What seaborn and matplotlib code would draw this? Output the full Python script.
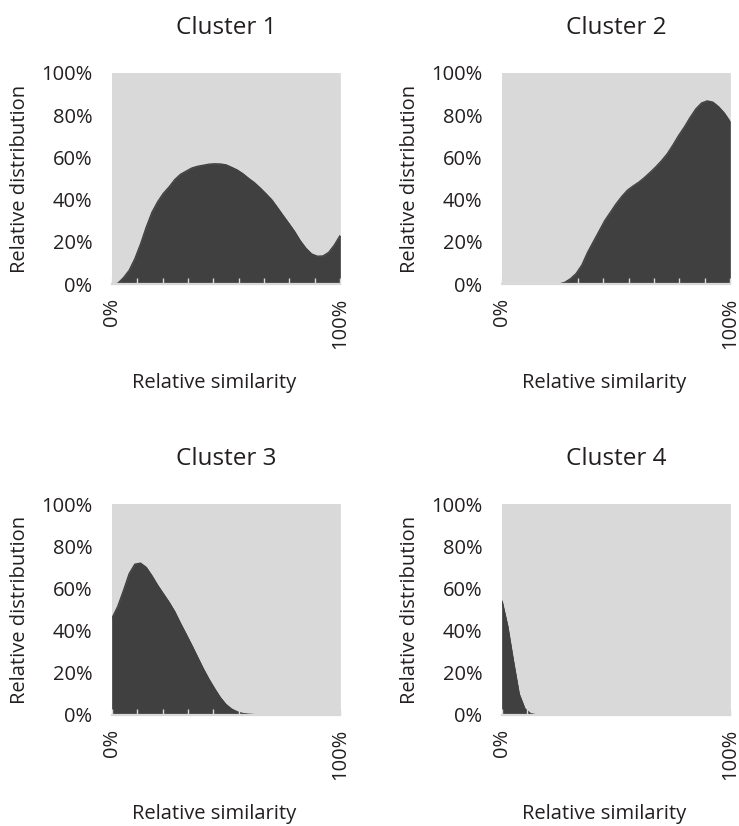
import matplotlib
matplotlib.use("Agg")
import matplotlib.pyplot as plt
from matplotlib.ticker import FixedLocator, FuncFormatter
import numpy as np
import pandas as pd
import seaborn as sns

# Relative similarity grid (percent)
similarity = [0, 2.5, 5, 7.5, 10, 12.5, 15, 17.5, 20, 22.5, 25, 27.5, 30, 32.5,
              35, 37.5, 40, 42.5, 45, 47.5, 50, 52.5, 55, 57.5, 60, 62.5, 65,
              67.5, 70, 72.5, 75, 77.5, 80, 82.5, 85, 87.5, 90, 92.5, 95, 97.5, 100]

# Share of each cluster at every similarity level (percent)
cluster1 = [0, 0.3, 3, 6.5, 12, 19, 27, 34, 39, 43, 46, 49.5, 52, 53.5, 55, 55.8,
            56.3, 56.8, 57, 56.9, 56.5, 55.3, 54, 52.2, 50, 48, 45.5, 42.8, 40,
            36.3, 32.5, 28.8, 25, 20.6, 17, 14.3, 13.2, 13.3, 15, 18.5, 23]
cluster2 = [0, 0, 0, 0, 0, 0, 0, 0, 0, 0, 0, 0.8, 2.5, 5, 9, 15, 20, 25, 30, 34,
            38, 41.5, 44.5, 46.5, 48.3, 50.5, 53, 55.6, 58.5, 61.8, 66, 70.5,
            74.5, 79, 83, 85.8, 86.8, 86.2, 84, 81, 77]
cluster3 = [46, 51.5, 59, 67, 71.5, 72, 70, 66, 61.5, 57.5, 53.5, 49, 43.5, 38.3,
            33, 27.5, 22, 17, 12.5, 8.3, 5, 2.8, 1.5, 0.7, 0.4, 0.2, 0.1,
            0, 0, 0, 0, 0, 0, 0, 0, 0, 0, 0, 0, 0, 0]
cluster4 = [54, 42, 25.5, 10, 3, 0.7, 0.1, 0, 0, 0, 0, 0, 0, 0, 0, 0, 0, 0, 0, 0,
            0, 0, 0, 0, 0, 0, 0, 0, 0, 0, 0, 0, 0, 0, 0, 0, 0, 0, 0, 0, 0]

titles = ["Cluster 1", "Cluster 2", "Cluster 3", "Cluster 4"]
y_ticks = [0, 20, 40, 60, 80, 100]
x_label_ticks = [0, 100]
x_minor_ticks = [100 * k / 9 for k in range(1, 9)]

DARK = "#404040"
LIGHT = "#d9d9d9"
TEXT = "#231f20"

sns.set_theme(style="white")
plt.rcParams["font.family"] = ["Open Sans", "DejaVu Sans"]
plt.rcParams["text.color"] = TEXT
plt.rcParams["axes.labelcolor"] = TEXT
plt.rcParams["xtick.color"] = TEXT
plt.rcParams["ytick.color"] = TEXT

df = pd.DataFrame({"similarity": similarity, "Cluster 1": cluster1,
                   "Cluster 2": cluster2, "Cluster 3": cluster3,
                   "Cluster 4": cluster4})

fig = plt.figure(figsize=(7.39, 8.26), dpi=100)

W, H = 739, 826
ax_w, ax_h = 228, 211
origins = [(112, 284), (502, 284), (112, 715), (502, 715)]

pct = FuncFormatter(lambda v, _: f"{v:.0f}%")

for (left, bottom), title in zip(origins, titles):
    ax = fig.add_axes([left / W, 1 - bottom / H, ax_w / W, ax_h / H])
    ax.set_facecolor(LIGHT)
    share = df[title].to_numpy(dtype=float)
    # 100% stacked area: the cluster's share and the remainder
    polys = ax.stackplot(df["similarity"], share, 100 - share,
                         colors=[DARK, LIGHT])
    for poly, col in zip(polys, [DARK, LIGHT]):
        poly.set_edgecolor(col)
        poly.set_linewidth(0.5)
    polys[0].set_zorder(1.2)
    sns.lineplot(data=df, x="similarity", y=title, ax=ax, color=DARK,
                 linewidth=0.9, zorder=1.5)

    ax.set_xlim(0, 100)
    ax.set_ylim(0, 100)
    ax.set_axisbelow(False)

    for side in ("top", "right", "left"):
        ax.spines[side].set_visible(False)
    ax.spines["bottom"].set_color(LIGHT)
    ax.spines["bottom"].set_linewidth(1.6)
    ax.spines["bottom"].set_zorder(3)

    ax.yaxis.set_major_locator(FixedLocator(y_ticks))
    ax.yaxis.set_major_formatter(pct)
    ax.tick_params(axis="y", length=0, pad=14, labelsize=14.5)

    ax.xaxis.set_major_locator(FixedLocator(x_label_ticks))
    ax.xaxis.set_minor_locator(FixedLocator(x_minor_ticks))
    ax.xaxis.set_major_formatter(pct)
    ax.tick_params(axis="x", which="both", direction="in", length=4.5,
                   width=1.0, color=LIGHT, bottom=True)
    ax.tick_params(axis="x", which="major", pad=10, labelsize=14.5,
                   labelrotation=90)

    ax.set_title(title, fontsize=17.5, pad=28, color=TEXT)
    ax.set_xlabel("Relative similarity", fontsize=14.5)
    ax.set_ylabel("Relative distribution", fontsize=14.5)
    ax.xaxis.set_label_coords(0.45, -0.42)
    ax.yaxis.set_label_coords(-0.36, 0.5)

fig.savefig("out.png", dpi=100, facecolor="white")
